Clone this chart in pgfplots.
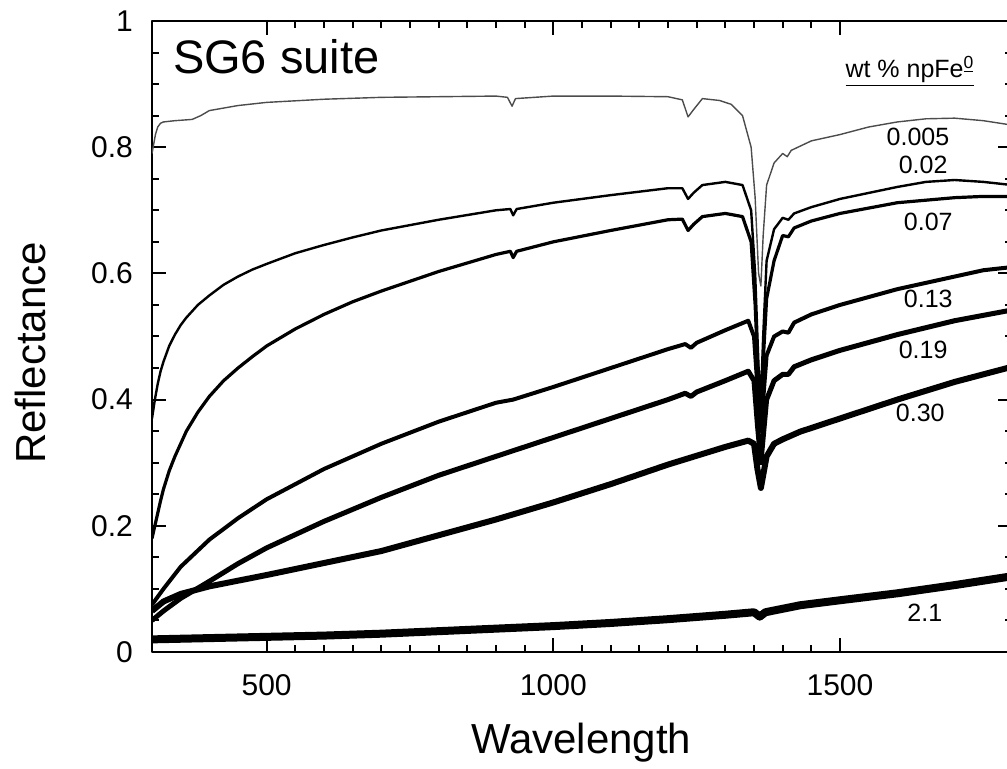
\documentclass[border=0pt]{standalone}
\usepackage{fontspec}
\setmainfont{Liberation Sans}
\usepackage{pgfplots}
\pgfplotsset{compat=1.18}

\begin{document}
\begin{tikzpicture}
\begin{axis}[
    name=ax,
    scale only axis,
    width=430pt, height=315.5pt,
    xmin=300, xmax=1800, ymin=0, ymax=1,
    xtick={500,1000,1500},
    ytick={0,0.2,0.4,0.6,0.8,1},
    minor x tick num=9,
    minor y tick num=3,
    tick align=inside,
    major tick length=7pt,
    minor tick length=3.5pt,
    every tick/.style={black, line width=1pt},
    axis line style={line width=1.3pt},
    xticklabel={\pgfmathprintnumber[1000 sep={}]{\tick}},
    yticklabel={\pgfmathprintnumber[fixed,precision=1]{\tick}},
    /pgf/number format/assume math mode=true,
    tick label style={font=\fontsize{15}{18}\selectfont},
    xticklabel style={yshift=-7.5pt},
    yticklabel style={xshift=-6pt},
    xlabel={Wavelength},
    ylabel={Reflectance},
    label style={font=\fontsize{21}{25}\selectfont},
    xlabel style={at={(axis description cs:0.499,-0.144)}, anchor=center},
    ylabel style={at={(axis description cs:-0.141,0.474)}, anchor=center},
    clip=true,
    line join=round,
]
% 0.005
\addplot[black!70, line width=0.7pt] coordinates {
(300,0.79)(303,0.805)(306,0.82)(310,0.832)(315,0.838)(320,0.84)(340,0.842)(370,0.844)(385,0.85)(400,0.858)(450,0.866)(500,0.871)(600,0.876)(700,0.879)(800,0.88)(900,0.881)(920,0.879)(928,0.865)(934,0.877)(1000,0.881)(1100,0.881)(1200,0.88)(1225,0.875)(1235,0.848)(1245,0.86)(1260,0.877)(1290,0.874)(1310,0.868)(1330,0.85)(1345,0.8)(1352,0.72)(1358,0.6)(1362,0.58)(1366,0.66)(1372,0.74)(1385,0.775)(1400,0.79)(1408,0.785)(1415,0.795)(1450,0.81)(1500,0.82)(1550,0.832)(1600,0.84)(1650,0.845)(1700,0.846)(1750,0.842)(1800,0.835)
};
% 0.02
\addplot[black, line width=1.2pt] coordinates {
(300,0.37)(305,0.40)(310,0.425)(315,0.445)(320,0.46)(330,0.485)(340,0.503)(350,0.518)(360,0.53)(380,0.55)(400,0.565)(425,0.582)(450,0.595)(475,0.606)(500,0.615)(550,0.632)(600,0.645)(650,0.657)(700,0.668)(800,0.685)(900,0.7)(925,0.702)(930,0.692)(936,0.702)(1000,0.712)(1100,0.724)(1200,0.735)(1225,0.735)(1235,0.718)(1245,0.728)(1260,0.74)(1300,0.745)(1330,0.74)(1345,0.7)(1352,0.6)(1358,0.45)(1362,0.4)(1366,0.5)(1372,0.62)(1385,0.67)(1400,0.688)(1410,0.685)(1420,0.695)(1450,0.705)(1500,0.718)(1600,0.737)(1650,0.745)(1700,0.748)(1750,0.745)(1800,0.74)
};
% 0.07
\addplot[black, line width=1.6pt] coordinates {
(300,0.18)(305,0.2)(310,0.22)(315,0.24)(320,0.258)(330,0.287)(340,0.31)(350,0.33)(360,0.35)(380,0.38)(400,0.405)(425,0.43)(450,0.45)(475,0.468)(500,0.485)(550,0.512)(600,0.535)(650,0.555)(700,0.572)(800,0.603)(900,0.63)(925,0.635)(930,0.625)(936,0.635)(1000,0.65)(1100,0.668)(1200,0.685)(1225,0.686)(1235,0.668)(1245,0.678)(1260,0.69)(1300,0.695)(1330,0.69)(1345,0.65)(1352,0.55)(1358,0.42)(1362,0.38)(1366,0.46)(1372,0.56)(1385,0.62)(1400,0.66)(1410,0.658)(1420,0.672)(1450,0.683)(1500,0.695)(1600,0.712)(1700,0.72)(1750,0.722)(1800,0.722)
};
% 0.13
\addplot[black, line width=2pt] coordinates {
(300,0.075)(320,0.1)(350,0.135)(400,0.178)(450,0.212)(500,0.242)(600,0.29)(700,0.33)(800,0.365)(900,0.395)(930,0.4)(1000,0.42)(1100,0.45)(1200,0.48)(1230,0.488)(1240,0.482)(1250,0.49)(1300,0.51)(1340,0.525)(1350,0.5)(1356,0.42)(1362,0.35)(1366,0.4)(1372,0.47)(1385,0.5)(1400,0.508)(1410,0.506)(1420,0.522)(1450,0.535)(1500,0.55)(1600,0.575)(1700,0.595)(1750,0.605)(1800,0.61)
};
% 0.19
\addplot[black, line width=2.5pt] coordinates {
(300,0.05)(320,0.065)(350,0.085)(400,0.112)(450,0.14)(500,0.165)(600,0.207)(700,0.245)(800,0.28)(900,0.31)(1000,0.34)(1100,0.37)(1200,0.4)(1230,0.41)(1240,0.405)(1250,0.412)(1300,0.43)(1340,0.445)(1350,0.43)(1356,0.36)(1362,0.3)(1366,0.34)(1372,0.4)(1385,0.43)(1400,0.44)(1410,0.44)(1420,0.452)(1450,0.463)(1500,0.478)(1600,0.503)(1700,0.525)(1800,0.542)
};
% 0.30
\addplot[black, line width=3pt] coordinates {
(300,0.065)(320,0.08)(350,0.092)(400,0.104)(450,0.113)(500,0.122)(600,0.141)(700,0.16)(800,0.185)(900,0.21)(1000,0.237)(1100,0.266)(1200,0.297)(1300,0.325)(1340,0.335)(1350,0.33)(1356,0.29)(1362,0.26)(1366,0.28)(1372,0.31)(1385,0.33)(1400,0.337)(1430,0.349)(1500,0.37)(1600,0.4)(1700,0.428)(1800,0.452)
};
% 2.1
\addplot[black, line width=4pt] coordinates {
(300,0.02)(400,0.022)(500,0.024)(600,0.026)(700,0.029)(800,0.033)(900,0.037)(1000,0.041)(1100,0.046)(1200,0.052)(1300,0.059)(1350,0.063)(1360,0.056)(1370,0.063)(1430,0.074)(1500,0.082)(1600,0.093)(1700,0.106)(1800,0.12)
};
\node[anchor=base west, font=\fontsize{23.5}{28}\selectfont, inner sep=0pt] at (axis cs:336,0.916) {SG6 suite};
\node[anchor=base, font=\fontsize{12.5}{15}\selectfont, inner sep=0pt] at (axis cs:1622,0.911) {\underline{wt \% npFe\textsuperscript{\underline{0}}}};
\begin{scope}[every node/.style={font=\fontsize{12.5}{15}\selectfont, inner sep=0pt}]
\node at (axis cs:1636,0.816) {0.005};
\node at (axis cs:1645,0.772) {0.02};
\node at (axis cs:1654,0.681) {0.07};
\node at (axis cs:1654,0.560) {0.13};
\node at (axis cs:1645,0.479) {0.19};
\node at (axis cs:1640,0.379) {0.30};
\node at (axis cs:1648,0.062) {2.1};
\end{scope}
\end{axis}
\pgfresetboundingbox
\useasboundingbox ([xshift=-76pt,yshift=-58.5pt]ax.south west) rectangle ([xshift=427.5pt,yshift=10.5pt]ax.north west);
\end{tikzpicture}
\end{document}
